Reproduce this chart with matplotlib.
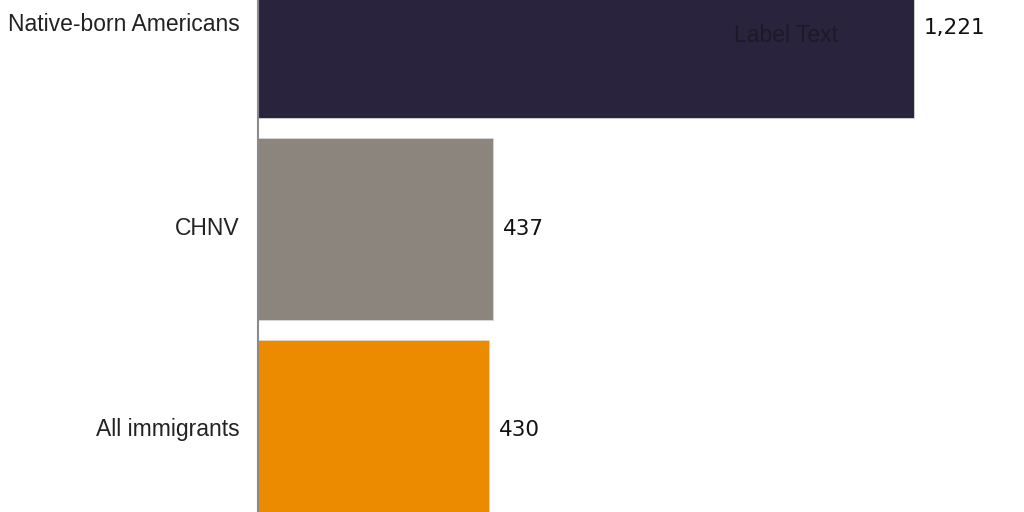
import matplotlib
matplotlib.use("Agg")
import matplotlib.pyplot as plt
import matplotlib.transforms as mtransforms

# data
categories = ["Native-born Americans", "CHNV", "All immigrants"]
values = [1221, 437, 430]
value_labels = ["1,221", "437", "430"]
colors = ["#29233d", "#8c857d", "#ec8b00"]

plt.rcParams['font.family'] = ['Liberation Sans', 'DejaVu Sans']

fig = plt.figure(figsize=(10.24, 5.12), dpi=100)
ax = fig.add_axes([258 / 1024, 0, 1 - 258 / 1024, 1])

pos = list(range(len(categories)))
ax.barh(pos, values, height=0.9, color=colors, edgecolor="#d8d8d8", linewidth=0.6)

ax.set_xlim(0, 1425.6)
ax.set_ylim(2.405, -0.137)

# value labels beside the bars
for p, v, lab in zip(pos, values, value_labels):
    ax.text(v + 18, p, lab, va="center", ha="left", fontsize=15.5,
            family="DejaVu Sans", color="#111111")

# stray placeholder label inside the top bar
ax.text(983, 0.04, "Label Text", va="center", ha="center", fontsize=16.5,
        color="#1c1a26")

ax.set_yticks(pos)
ax.set_yticklabels(categories, fontsize=16.5, color="#222222")
ax.tick_params(axis="y", length=0, pad=13)
ax.set_xticks([])

# small vertical nudges of the category labels
nudges = [6, 3, 3]
for lab, dy in zip(ax.get_yticklabels(), nudges):
    lab.set_transform(lab.get_transform() +
                      mtransforms.ScaledTranslation(0, dy / 100, fig.dpi_scale_trans))

for side in ["top", "right", "bottom"]:
    ax.spines[side].set_visible(False)
ax.spines["left"].set_color("#8a8a8a")
ax.spines["left"].set_linewidth(1.5)

fig.savefig("out.png", dpi=100)
